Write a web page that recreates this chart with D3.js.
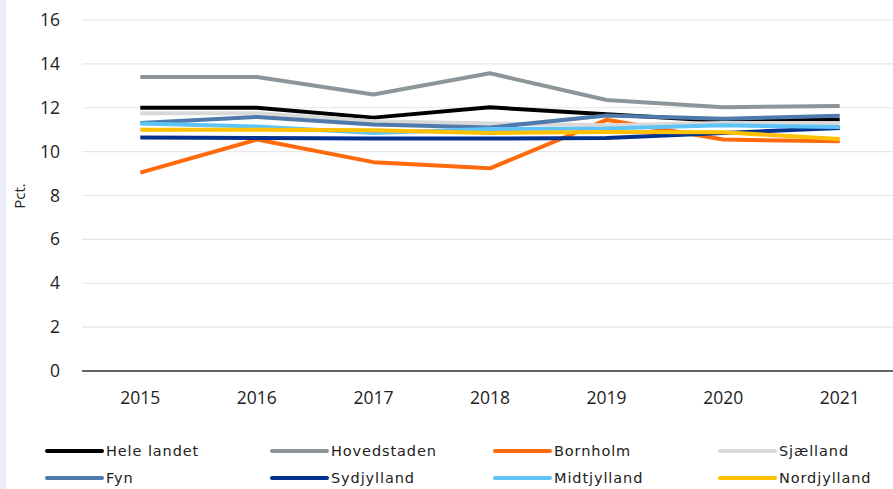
<!DOCTYPE html>
<html>
<head>
  <meta charset="UTF-8">
  <style>
    body { margin: 0; background-color: #ffffff; }
    svg { display: block; }
    .tick text { font-family: "Open Sans", "DejaVu Sans", sans-serif; }
  </style>
</head>
<body>
<svg></svg>
<script src="https://d3js.org/d3.v7.min.js"></script>
<script>
let width = 893, height = 489;

// data
let years = ["2015", "2016", "2017", "2018", "2019", "2020", "2021"];
let regions = ["Hele landet", "Hovedstaden", "Bornholm", "Sjælland", "Fyn", "Sydjylland", "Midtjylland", "Nordjylland"];
let heleLandet  = [12.0, 12.0, 11.55, 12.02, 11.7, 11.4, 11.45];
let hovedstaden = [13.4, 13.4, 12.6, 13.57, 12.35, 12.02, 12.08];
let bornholm    = [9.04, 10.55, 9.52, 9.24, 11.45, 10.55, 10.47];
let sjaelland   = [11.75, 11.75, 11.38, 11.28, 11.2, 11.3, 11.3];
let fyn         = [11.3, 11.58, 11.24, 11.1, 11.65, 11.5, 11.64];
let sydjylland  = [10.64, 10.62, 10.6, 10.6, 10.62, 10.85, 11.08];
let midtjylland = [11.28, 11.15, 10.85, 11.03, 11.05, 11.2, 11.12];
let nordjylland = [11.0, 11.0, 10.98, 10.85, 10.9, 10.88, 10.58];
let yTicks = [0, 2, 4, 6, 8, 10, 12, 14, 16];
let colors = ["#000000", "#8c9599", "#ff6a0d", "#d9d9d9", "#4f7aab", "#03318f", "#5ec4f7", "#ffc000"];

let series = [heleLandet, hovedstaden, bornholm, sjaelland, fyn, sydjylland, midtjylland, nordjylland];

let svg = d3.select("svg").attr("width", width).attr("height", height);

// light strip on the left edge
svg.append("rect").attr("x", 0).attr("y", 0).attr("width", 6).attr("height", height).attr("fill", "#e9eef8");

let x = d3.scaleBand().domain(years).range([82, 898]);
let y = d3.scaleLinear().domain([0, 16]).range([371, 20]);

// gridlines
svg.append("g")
  .selectAll("line")
  .data(yTicks.filter(d => d > 0))
  .enter()
  .append("line")
  .attr("x1", 82).attr("x2", width)
  .attr("y1", d => y(d)).attr("y2", d => y(d))
  .attr("stroke", "#e6e6e6")
  .attr("stroke-width", 1.2);

// y axis labels
let yAxis = svg.append("g")
  .attr("transform", "translate(82,0)")
  .call(d3.axisLeft(y).tickValues(yTicks).tickSize(0).tickPadding(22));
yAxis.select(".domain").remove();
yAxis.selectAll("text").style("font-size", "17.5px").attr("fill", "#222");

// x axis
let xAxis = svg.append("g")
  .attr("transform", "translate(0,371)")
  .call(d3.axisBottom(x).tickSize(0).tickPadding(21));
xAxis.select(".domain").attr("stroke", "#333").attr("stroke-width", 1.5).attr("d", "M82,0H" + width);
xAxis.selectAll("text").style("font-size", "17.5px").attr("fill", "#222");

// y title
svg.append("text")
  .attr("transform", "translate(25,196) rotate(-90)")
  .attr("text-anchor", "middle")
  .style("font-family", "'Open Sans', sans-serif")
  .style("font-size", "15px")
  .attr("fill", "#222")
  .text("Pct.");

// lines
let line = d3.line()
  .x((d, i) => x(years[i]) + x.bandwidth() / 2)
  .y(d => y(d));

svg.append("g")
  .selectAll("path")
  .data(series)
  .enter()
  .append("path")
  .attr("d", line)
  .attr("fill", "none")
  .attr("stroke", (d, i) => colors[i])
  .attr("stroke-width", 4)
  .attr("stroke-linejoin", "round");

// legend
let legX = [47, 272, 495, 720];
let legend = svg.append("g");
let items = legend.selectAll("g")
  .data(regions)
  .enter()
  .append("g")
  .attr("transform", (d, i) => `translate(${legX[i % 4]}, ${451 + Math.floor(i / 4) * 27})`);

items.append("line")
  .attr("x1", 0).attr("x2", 55)
  .attr("stroke", (d, i) => colors[i])
  .attr("stroke-width", 4)
  .attr("stroke-linecap", "round");

items.append("text")
  .attr("x", 59)
  .attr("dy", "0.35em")
  .style("font-family", "'DejaVu Sans', sans-serif")
  .style("font-size", "14.5px")
  .style("letter-spacing", "0.9px")
  .attr("fill", "#222")
  .text(d => d);
</script>
</body>
</html>
